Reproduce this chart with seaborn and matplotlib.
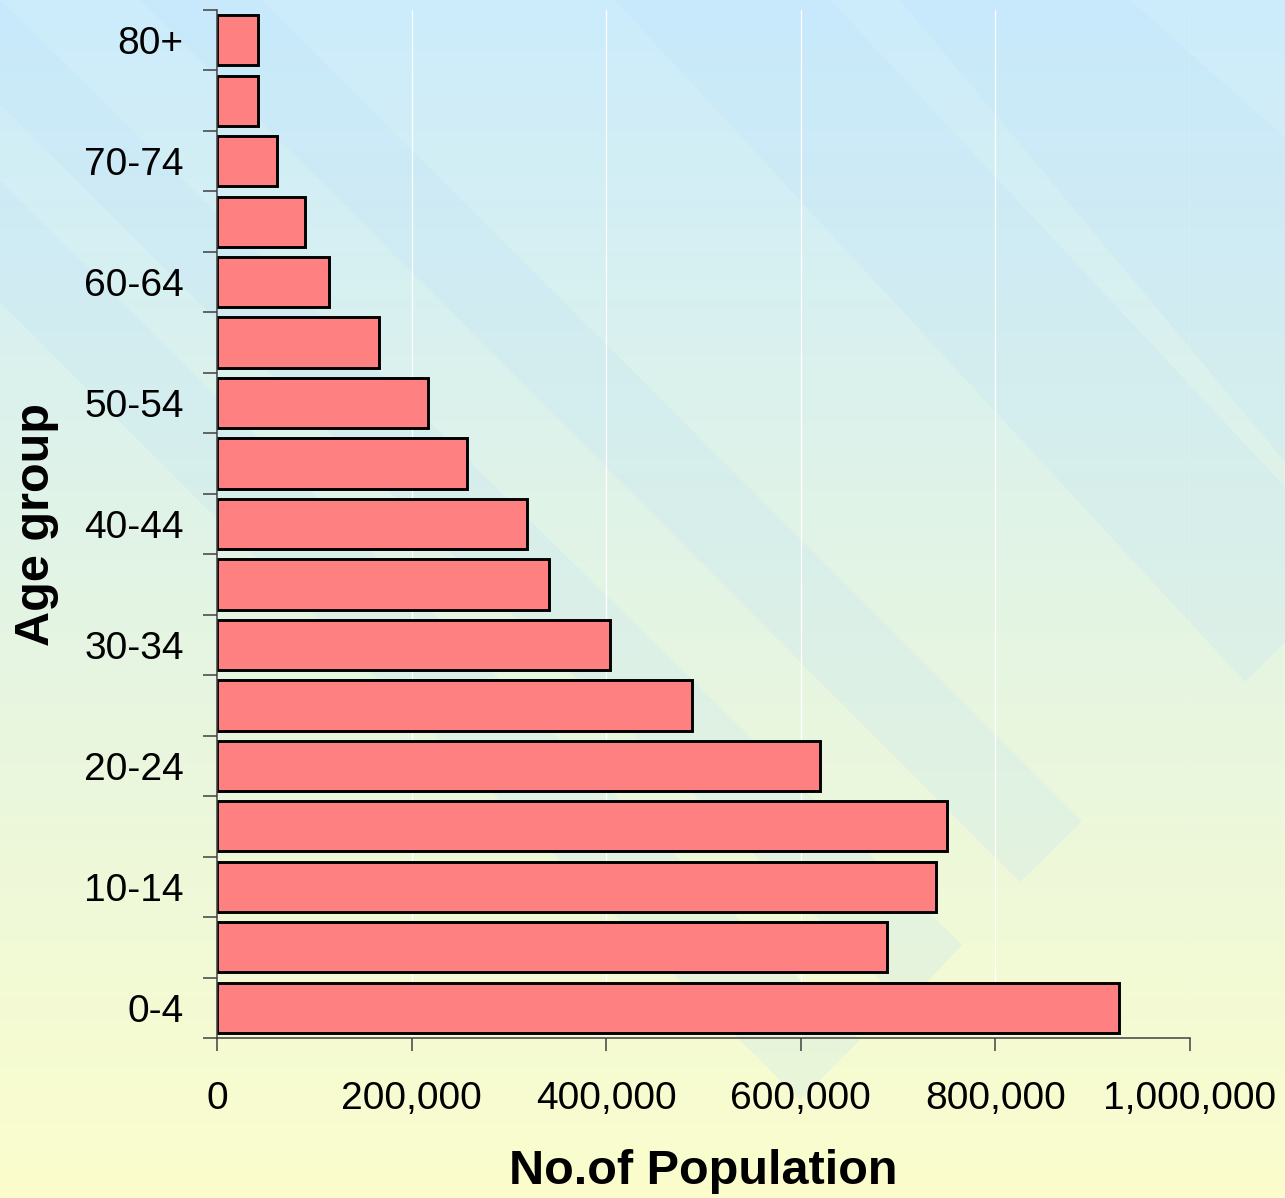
import numpy as np
import pandas as pd
import matplotlib
matplotlib.use("Agg")
import matplotlib.pyplot as plt
import seaborn as sns
from matplotlib.patches import Polygon
from matplotlib.ticker import FuncFormatter

# Data (youngest to oldest)
age_groups = ["0-4", "5-9", "10-14", "15-19", "20-24", "25-29", "30-34", "35-39",
              "40-44", "45-49", "50-54", "55-59", "60-64", "65-69", "70-74", "75-79", "80+"]
population = [927500, 688300, 738800, 750700, 620100, 487900, 403600, 341300,
              318600, 257000, 216600, 166900, 115600, 90300, 62000, 42000, 42000]
x_ticks = [0, 200000, 400000, 600000, 800000, 1000000]

df = pd.DataFrame({"Age group": age_groups, "Population": population})
order = age_groups[::-1]  # oldest on top

sns.set_style("white")
plt.rcParams['font.family'] = ['Liberation Sans', 'DejaVu Sans']
plt.rcParams.update({'text.color': 'black', 'axes.labelcolor': 'black',
                     'xtick.labelcolor': 'black', 'ytick.labelcolor': 'black'})

W, H = 1285, 1198
fig = plt.figure(figsize=(W / 100, H / 100), dpi=100)

# background: blue-to-yellow gradient with faint diagonal bands
bg = fig.add_axes([0, 0, 1, 1], zorder=-1)
top = np.array([204, 236, 252]) / 255
bot = np.array([251, 253, 204]) / 255
t = np.linspace(0, 1, 256)[:, None]
grad = (top * (1 - t) + bot * t)[:, None, :]
bg.imshow(grad, extent=[0, W, H, 0], aspect='auto')
bands = [
    [(-303, 0), (-180, 0), (860, 1040), (800, 1100)],
    [(-105, 0), (0, 0), (962, 945), (905, 1005)],
    [(140, 0), (262, 0), (1082, 821), (1020, 882)],
    [(615, 0), (830, 0), (1285, 487), (1285, 642), (1245, 682)],
    [(900, 0), (1130, 0), (1400, 240), (1400, 600)],
]
for pts in bands:
    bg.add_patch(Polygon(pts, closed=True, facecolor='#b8defc', edgecolor='none',
                         alpha=0.2))
bg.set_xlim(0, W)
bg.set_ylim(H, 0)
bg.axis('off')

ax = fig.add_axes([217 / W, 1 - 1038 / H, (1190 - 217) / W, (1038 - 10) / H])
ax.set_facecolor('none')

ax.xaxis.grid(True, color='white', linewidth=0.9)
ax.set_axisbelow(True)

sns.barplot(data=df, x="Population", y="Age group", order=order, orient='h',
            color='#ff8080', saturation=1, edgecolor='black', linewidth=2.1,
            width=0.83, ax=ax)

ax.set_xlim(0, 1000000)
ax.set_ylim(len(order) - 0.5, -0.5)

ax.set_xticks(x_ticks)
ax.xaxis.set_major_formatter(FuncFormatter(lambda v, p: f"{int(v):,}"))
ax.tick_params(axis='x', which='major', direction='out', length=9, width=1.1,
               color='#404040', labelsize=28, pad=22, bottom=True)

# category boundaries as tick marks, labels on every other group
ax.set_yticks(np.arange(-0.5, len(order), 1))
ax.set_yticklabels([])
ax.set_yticks(np.arange(len(order)), minor=True)
ax.set_yticklabels([g if age_groups.index(g) % 2 == 0 else "" for g in order], minor=True)
ax.tick_params(axis='y', which='major', direction='out', length=10, width=1.1,
               color='#404040', left=True)
ax.tick_params(axis='y', which='minor', length=0, labelsize=28, pad=24)

for side in ['top', 'right']:
    ax.spines[side].set_visible(False)
for side in ['left', 'bottom']:
    ax.spines[side].set_color('#404040')
    ax.spines[side].set_linewidth(1.1)

ax.set_xlabel("No.of Population", fontsize=35, fontweight='bold', labelpad=23)
ax.set_ylabel("Age group", fontsize=35, fontweight='bold', labelpad=18)

fig.savefig("out.png", dpi=100)
